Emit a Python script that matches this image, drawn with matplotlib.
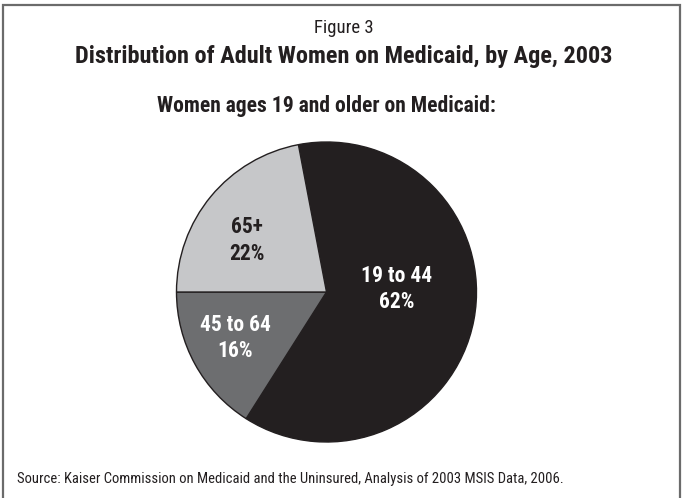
import matplotlib.pyplot as plt
from matplotlib.patches import Rectangle

# Data
groups = ["19 to 44", "45 to 64", "65+"]
shares = [62, 16, 22]
colors = ["#231f20", "#6d6e70", "#c6c7c9"]
text_colors = ["white", "white", "#231f20"]
# label anchor (pixel x, baseline of first line) for each slice
label_px = [(396.7, 281.7), (235, 330.7), (246.7, 233)]

title_small = "Figure 3"
title = "Distribution of Adult Women on Medicaid, by Age, 2003"
subtitle = "Women ages 19 and older on Medicaid:"
source = "Source: Kaiser Commission on Medicaid and the Uninsured, Analysis of 2003 MSIS Data, 2006."

plt.rcParams["font.family"] = ["Roboto Condensed", "DejaVu Sans"]

W, H = 683, 498
fig = plt.figure(figsize=(W / 100, H / 100), dpi=100)

# frame around the figure
fig.patches.append(Rectangle((3 / W, -0.05), (W - 6) / W, (H - 5) / H + 0.05,
                             transform=fig.transFigure, fill=False,
                             edgecolor="#6b6b6b", linewidth=1.6))

ink = "#231f20"
fig.text(344 / W, 1 - 33 / H, title_small, ha="center", va="baseline", fontsize=13.5, color=ink)
fig.text(344 / W, 1 - 63.3 / H, title, ha="center", va="baseline", fontsize=17.5,
         fontweight="bold", color=ink)
fig.text(326 / W, 1 - 111.7 / H, subtitle, ha="center", va="baseline", fontsize=15.5,
         fontweight="bold", color=ink)
fig.text(17 / W, 1 - 483 / H, source, ha="left", va="baseline", fontsize=10.5, color=ink)

# pie
r = 151.5
cx, cy = 326.5, 292
ax = fig.add_axes([(cx - r) / W, (H - cy - r) / H, 2 * r / W, 2 * r / H])
ax.pie(shares, colors=colors, startangle=100.8, counterclock=False,
       wedgeprops=dict(edgecolor=ink, linewidth=1.0))
ax.set_xlim(-1.01, 1.01)
ax.set_ylim(-1.01, 1.01)
ax.set_aspect("equal")
ax.axis("off")

for g, s, tc, (px, py) in zip(groups, shares, text_colors, label_px):
    x = (px - cx) / r * 1.01
    for k, line in enumerate([g, f"{s}%"]):
        y = (cy - (py + 26.5 * k)) / r * 1.01
        ax.text(x, y, line, ha="center", va="baseline", fontsize=15.5,
                fontweight="bold", color=tc)

fig.savefig("out.png", dpi=100)
